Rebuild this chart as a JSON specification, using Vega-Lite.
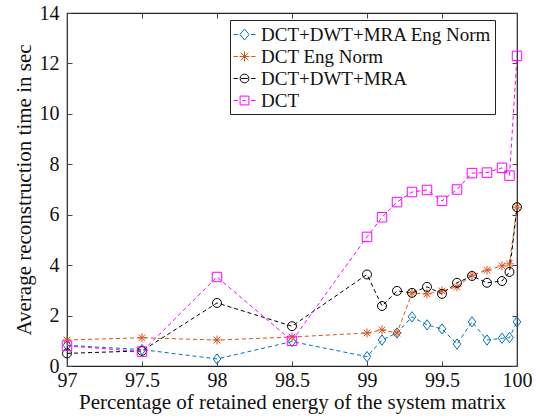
{
  "$schema": "https://vega.github.io/schema/vega-lite/v6.json",
  "width": 450,
  "height": 353,
  "autosize": {"type": "none"},
  "padding": {"left": 67, "top": 13, "right": 21, "bottom": 50},
  "config": {
    "font": "Liberation Serif",
    "view": {"stroke": "#222", "strokeWidth": 1.2},
    "axis": {"grid": false, "domain": false, "labelFont": "Liberation Serif", "titleFont": "Liberation Serif", "labelFontSize": 20, "titleFontSize": 21, "labelColor": "#111", "titleColor": "#111", "titleFontWeight": "normal", "tickColor": "#444", "tickSize": -5},
    "legend": {"labelFont": "Liberation Serif", "labelFontSize": 19, "labelColor": "#111", "labelLimit": 400, "labelOffset": 5, "symbolSize": 484, "symbolStrokeWidth": 1, "symbolFillColor": "transparent", "symbolDash": [], "rowPadding": -1, "strokeColor": "#222", "fillColor": "white", "padding": 3}
  },
  "data": {"values": [
    {"x": 97, "y": 0.82, "s": "DCT+DWT+MRA Eng Norm"},
    {"x": 97.5, "y": 0.65, "s": "DCT+DWT+MRA Eng Norm"},
    {"x": 98, "y": 0.28, "s": "DCT+DWT+MRA Eng Norm"},
    {"x": 98.5, "y": 0.97, "s": "DCT+DWT+MRA Eng Norm"},
    {"x": 99, "y": 0.37, "s": "DCT+DWT+MRA Eng Norm"},
    {"x": 99.1, "y": 1.03, "s": "DCT+DWT+MRA Eng Norm"},
    {"x": 99.2, "y": 1.31, "s": "DCT+DWT+MRA Eng Norm"},
    {"x": 99.3, "y": 1.95, "s": "DCT+DWT+MRA Eng Norm"},
    {"x": 99.4, "y": 1.63, "s": "DCT+DWT+MRA Eng Norm"},
    {"x": 99.5, "y": 1.47, "s": "DCT+DWT+MRA Eng Norm"},
    {"x": 99.6, "y": 0.87, "s": "DCT+DWT+MRA Eng Norm"},
    {"x": 99.7, "y": 1.75, "s": "DCT+DWT+MRA Eng Norm"},
    {"x": 99.8, "y": 1.03, "s": "DCT+DWT+MRA Eng Norm"},
    {"x": 99.9, "y": 1.1, "s": "DCT+DWT+MRA Eng Norm"},
    {"x": 99.95, "y": 1.13, "s": "DCT+DWT+MRA Eng Norm"},
    {"x": 100, "y": 1.75, "s": "DCT+DWT+MRA Eng Norm"},
    {"x": 97, "y": 1.03, "s": "DCT Eng Norm"},
    {"x": 97.5, "y": 1.12, "s": "DCT Eng Norm"},
    {"x": 98, "y": 1.03, "s": "DCT Eng Norm"},
    {"x": 98.5, "y": 1.15, "s": "DCT Eng Norm"},
    {"x": 99, "y": 1.31, "s": "DCT Eng Norm"},
    {"x": 99.1, "y": 1.43, "s": "DCT Eng Norm"},
    {"x": 99.2, "y": 1.31, "s": "DCT Eng Norm"},
    {"x": 99.3, "y": 2.9, "s": "DCT Eng Norm"},
    {"x": 99.4, "y": 2.86, "s": "DCT Eng Norm"},
    {"x": 99.5, "y": 2.98, "s": "DCT Eng Norm"},
    {"x": 99.6, "y": 3.14, "s": "DCT Eng Norm"},
    {"x": 99.7, "y": 3.6, "s": "DCT Eng Norm"},
    {"x": 99.8, "y": 3.8, "s": "DCT Eng Norm"},
    {"x": 99.9, "y": 3.97, "s": "DCT Eng Norm"},
    {"x": 99.95, "y": 4.05, "s": "DCT Eng Norm"},
    {"x": 100, "y": 6.3, "s": "DCT Eng Norm"},
    {"x": 97, "y": 0.5, "s": "DCT+DWT+MRA"},
    {"x": 97.5, "y": 0.6, "s": "DCT+DWT+MRA"},
    {"x": 98, "y": 2.5, "s": "DCT+DWT+MRA"},
    {"x": 98.5, "y": 1.58, "s": "DCT+DWT+MRA"},
    {"x": 99, "y": 3.63, "s": "DCT+DWT+MRA"},
    {"x": 99.1, "y": 2.38, "s": "DCT+DWT+MRA"},
    {"x": 99.2, "y": 2.98, "s": "DCT+DWT+MRA"},
    {"x": 99.3, "y": 2.9, "s": "DCT+DWT+MRA"},
    {"x": 99.4, "y": 3.14, "s": "DCT+DWT+MRA"},
    {"x": 99.5, "y": 2.86, "s": "DCT+DWT+MRA"},
    {"x": 99.6, "y": 3.3, "s": "DCT+DWT+MRA"},
    {"x": 99.7, "y": 3.57, "s": "DCT+DWT+MRA"},
    {"x": 99.8, "y": 3.3, "s": "DCT+DWT+MRA"},
    {"x": 99.9, "y": 3.37, "s": "DCT+DWT+MRA"},
    {"x": 99.95, "y": 3.73, "s": "DCT+DWT+MRA"},
    {"x": 100, "y": 6.3, "s": "DCT+DWT+MRA"},
    {"x": 97, "y": 0.8, "s": "DCT"},
    {"x": 97.5, "y": 0.57, "s": "DCT"},
    {"x": 98, "y": 3.53, "s": "DCT"},
    {"x": 98.5, "y": 1.0, "s": "DCT"},
    {"x": 99, "y": 5.12, "s": "DCT"},
    {"x": 99.1, "y": 5.9, "s": "DCT"},
    {"x": 99.2, "y": 6.5, "s": "DCT"},
    {"x": 99.3, "y": 6.9, "s": "DCT"},
    {"x": 99.4, "y": 6.98, "s": "DCT"},
    {"x": 99.5, "y": 6.55, "s": "DCT"},
    {"x": 99.6, "y": 7.0, "s": "DCT"},
    {"x": 99.7, "y": 7.65, "s": "DCT"},
    {"x": 99.8, "y": 7.67, "s": "DCT"},
    {"x": 99.9, "y": 7.86, "s": "DCT"},
    {"x": 99.95, "y": 7.55, "s": "DCT"},
    {"x": 100, "y": 12.3, "s": "DCT"}
  ]},
  "layer": [
    {
      "mark": {"type": "line", "strokeDash": [4, 3], "strokeWidth": 1, "clip": false},
      "encoding": {
        "x": {"field": "x", "type": "quantitative", "scale": {"domain": [97, 100], "nice": false, "zero": false},
          "axis": {"orient": "bottom", "values": [97, 97.5, 98, 98.5, 99, 99.5, 100], "format": "~f", "title": "Percentage of retained energy of the system matrix", "labelPadding": 9, "titlePadding": 1, "labelFlush": false}},
        "y": {"field": "y", "type": "quantitative", "scale": {"domain": [0, 14], "nice": false},
          "axis": {"orient": "left", "values": [0, 2, 4, 6, 8, 10, 12, 14], "title": "Average reconstruction time in sec", "labelPadding": 13, "titlePadding": 5, "labelFlush": false}},
        "color": {"field": "s", "type": "nominal", "sort": ["DCT+DWT+MRA Eng Norm", "DCT Eng Norm", "DCT+DWT+MRA", "DCT"],
          "scale": {"domain": ["DCT+DWT+MRA Eng Norm", "DCT Eng Norm", "DCT+DWT+MRA", "DCT"], "range": ["#0072BD", "#D95319", "#000000", "#FF00FF"]},
          "legend": {"orient": "none", "legendX": 163, "legendY": 7, "title": null,
            "labelFont": "Liberation Serif", "labelFontSize": 19, "labelColor": "#111", "labelLimit": 400,
            "encode": {
              "symbols": {"update": {
              "fill": {"value": "transparent"},
              "strokeDash": {"value": []},
              "shape": {"signal": "datum.value === 'DCT+DWT+MRA Eng Norm' ? 'M-1,0L-0.6,0M0.6,0L1,0M0,-0.5L0.42,0L0,0.5L-0.42,0Z' : datum.value === 'DCT Eng Norm' ? 'M-1,0L-0.6,0M0.6,0L1,0M-0.45,0L0.45,0M0,-0.45L0,0.45M-0.35,-0.35L0.35,0.35M-0.35,0.35L0.35,-0.35' : datum.value === 'DCT+DWT+MRA' ? 'M-1,0L-0.6,0M0.6,0L1,0M-0.3,0L0.3,0M0.4,0A0.4,0.4 0 1,1 -0.4,0A0.4,0.4 0 1,1 0.4,0' : 'M-1,0L-0.6,0M0.6,0L1,0M-0.2,0L0.1,0M-0.4,-0.4L0.4,-0.4L0.4,0.4L-0.4,0.4Z'"}
            }}}}},
        "order": {"field": "x"}
      }
    },
    {
      "transform": [{"filter": "datum.s === 'DCT+DWT+MRA Eng Norm'"}],
      "mark": {"type": "point", "filled": false, "size": 80, "strokeWidth": 1, "opacity": 1, "clip": false, "color": "#0072BD", "shape": "M0,-1.15L0.85,0L0,1.15L-0.85,0Z"},
      "encoding": {
        "x": {"field": "x", "type": "quantitative", "axis": {"orient": "top", "values": [97, 97.5, 98, 98.5, 99, 99.5, 100], "labels": false, "title": null}},
        "y": {"field": "y", "type": "quantitative", "axis": {"orient": "right", "values": [0, 2, 4, 6, 8, 10, 12, 14], "labels": false, "title": null}}
      }
    },
    {
      "transform": [{"filter": "datum.s === 'DCT Eng Norm'"}],
      "mark": {"type": "point", "filled": false, "size": 80, "strokeWidth": 1, "opacity": 1, "clip": false, "color": "#D95319", "shape": "M-1,0L1,0M0,-1L0,1M-0.75,-0.75L0.75,0.75M-0.75,0.75L0.75,-0.75"},
      "encoding": {
        "x": {"field": "x", "type": "quantitative", "axis": null},
        "y": {"field": "y", "type": "quantitative", "axis": null}
      }
    },
    {
      "transform": [{"filter": "datum.s === 'DCT+DWT+MRA'"}],
      "mark": {"type": "point", "filled": false, "size": 80, "strokeWidth": 1, "opacity": 1, "clip": false, "color": "#000000", "shape": "circle"},
      "encoding": {
        "x": {"field": "x", "type": "quantitative", "axis": null},
        "y": {"field": "y", "type": "quantitative", "axis": null}
      }
    },
    {
      "transform": [{"filter": "datum.s === 'DCT'"}],
      "mark": {"type": "point", "filled": false, "size": 90, "strokeWidth": 1, "opacity": 1, "clip": false, "color": "#FF00FF", "shape": "square"},
      "encoding": {
        "x": {"field": "x", "type": "quantitative", "axis": null},
        "y": {"field": "y", "type": "quantitative", "axis": null}
      }
    }
  ],
  "resolve": {"axis": {"x": "independent", "y": "independent"}}
}
